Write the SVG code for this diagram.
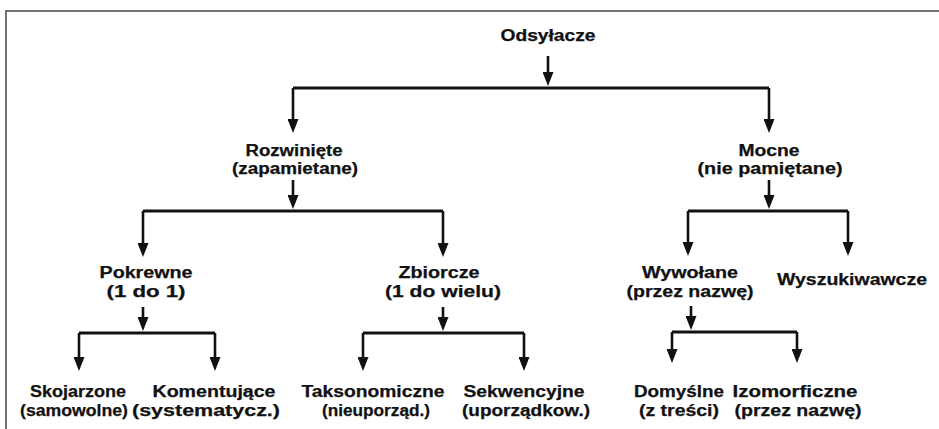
<svg xmlns="http://www.w3.org/2000/svg" width="939" height="429" viewBox="0 0 939 429">
<defs>
<style>
text{font-family:"Liberation Sans",Arial,sans-serif;font-weight:bold;font-size:16px;fill:#111;stroke:#111;stroke-width:0.25;text-anchor:middle}
.ln{stroke:#111;stroke-width:3;fill:none}
.ar{stroke:#111;stroke-width:2.6;fill:none;marker-end:url(#ah)}
.frame{stroke:#444;stroke-width:1.5;fill:none}
</style>
<marker id="ah" viewBox="0 0 14 11" refX="4" refY="5.5" markerWidth="14" markerHeight="11" markerUnits="userSpaceOnUse" orient="auto">
<path d="M0,0 L14,5.5 L0,11 z" fill="#111"/>
</marker>
</defs>
<rect width="939" height="429" fill="#fff"/>
<path class="frame" d="M6,429 V11 H939"/>

<g id="connectors">
<path class="ar" d="M548,56 V76"/>
<path class="ln" d="M293,88 H769"/>
<path class="ar" d="M293,88 V123"/>
<path class="ar" d="M769,88 V123"/>

<path class="ar" d="M293,180 V199"/>
<path class="ln" d="M143,211 H443"/>
<path class="ar" d="M143,211 V247"/>
<path class="ar" d="M443,211 V247"/>

<path class="ar" d="M769,180 V199"/>
<path class="ln" d="M688,211 H848"/>
<path class="ar" d="M688,211 V246"/>
<path class="ar" d="M848,211 V246"/>

<path class="ar" d="M143,307 V321"/>
<path class="ln" d="M79,333 H215"/>
<path class="ar" d="M79,333 V361"/>
<path class="ar" d="M215,333 V361"/>

<path class="ar" d="M443,307 V321"/>
<path class="ln" d="M363,333 H524"/>
<path class="ar" d="M363,333 V361"/>
<path class="ar" d="M524,333 V361"/>

<path class="ar" d="M691,306 V320"/>
<path class="ln" d="M672,332 H797"/>
<path class="ar" d="M672,332 V353"/>
<path class="ar" d="M797,332 V353"/>
</g>

<g id="odsylacze"><text x="548" y="41" textLength="95" lengthAdjust="spacingAndGlyphs">Odsyłacze</text></g>

<g id="rozwiniete">
<text x="294" y="156" textLength="97" lengthAdjust="spacingAndGlyphs">Rozwinięte</text>
<text x="295" y="174" textLength="126" lengthAdjust="spacingAndGlyphs">(zapamietane)</text>
</g>
<g id="mocne">
<text x="769" y="156" textLength="61" lengthAdjust="spacingAndGlyphs">Mocne</text>
<text x="770" y="174" textLength="145" lengthAdjust="spacingAndGlyphs">(nie pamiętane)</text>
</g>

<g id="pokrewne">
<text x="146" y="278" textLength="93" lengthAdjust="spacingAndGlyphs">Pokrewne</text>
<text x="146" y="297" textLength="79" lengthAdjust="spacingAndGlyphs">(1 do 1)</text>
</g>
<g id="zbiorcze">
<text x="439" y="278" textLength="81" lengthAdjust="spacingAndGlyphs">Zbiorcze</text>
<text x="443" y="297" textLength="116" lengthAdjust="spacingAndGlyphs">(1 do wielu)</text>
</g>
<g id="wywolane">
<text x="690" y="278" textLength="96" lengthAdjust="spacingAndGlyphs">Wywołane</text>
<text x="690" y="297" textLength="127" lengthAdjust="spacingAndGlyphs">(przez nazwę)</text>
</g>
<g id="wyszukiwawcze">
<text x="852" y="285" textLength="150" lengthAdjust="spacingAndGlyphs">Wyszukiwawcze</text>
</g>

<g id="skojarzone">
<text x="78" y="397" textLength="96" lengthAdjust="spacingAndGlyphs">Skojarzone</text>
<text x="74" y="416" textLength="108" lengthAdjust="spacingAndGlyphs">(samowolne)</text>
</g>
<g id="komentujace">
<text x="214" y="397" textLength="123" lengthAdjust="spacingAndGlyphs">Komentujące</text>
<text x="206" y="416" textLength="148" lengthAdjust="spacingAndGlyphs">(systematycz.)</text>
</g>
<g id="taksonomiczne">
<text x="373" y="397" textLength="143" lengthAdjust="spacingAndGlyphs">Taksonomiczne</text>
<text x="376" y="416" textLength="108" lengthAdjust="spacingAndGlyphs">(nieuporząd.)</text>
</g>
<g id="sekwencyjne">
<text x="524" y="397" textLength="121" lengthAdjust="spacingAndGlyphs">Sekwencyjne</text>
<text x="526" y="416" textLength="128" lengthAdjust="spacingAndGlyphs">(uporządkow.)</text>
</g>
<g id="domyslne">
<text x="679" y="397" textLength="90" lengthAdjust="spacingAndGlyphs">Domyślne</text>
<text x="679" y="416" textLength="80" lengthAdjust="spacingAndGlyphs">(z treści)</text>
</g>
<g id="izomorficzne">
<text x="795" y="397" textLength="125" lengthAdjust="spacingAndGlyphs">Izomorficzne</text>
<text x="798" y="416" textLength="127" lengthAdjust="spacingAndGlyphs">(przez nazwę)</text>
</g>
</svg>
